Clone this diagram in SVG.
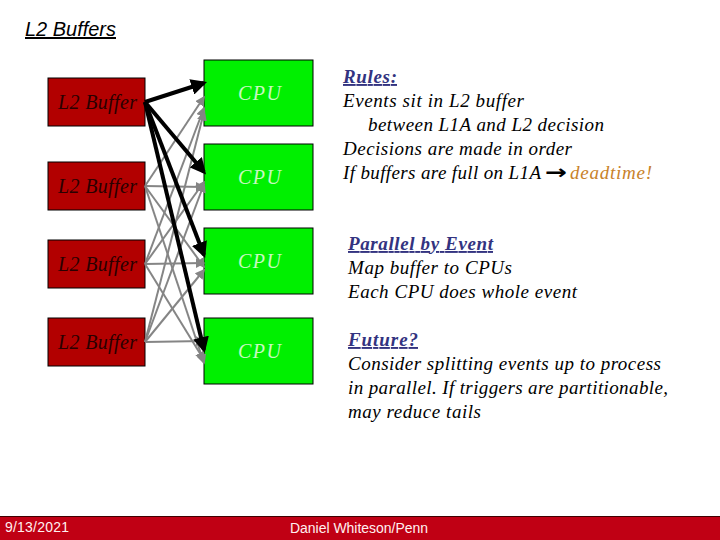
<svg xmlns="http://www.w3.org/2000/svg" width="720" height="540" viewBox="0 0 720 540">
<style>
.buf rect{fill:#b20000;stroke:#000;stroke-width:1}
.buf text{font-family:"Liberation Serif",serif;font-style:italic;font-size:20px;fill:#2a0000}
.cpu rect{fill:#00f000;stroke:#000;stroke-width:1}
.cpu text{font-family:"Liberation Serif",serif;font-style:italic;font-size:20px;fill:#c8f8c0}
.blk{stroke:#000;stroke-width:4;fill:none;marker-end:url(#ab)}
.gry{stroke:#858585;stroke-width:2;fill:none;marker-end:url(#ag)}
.note{font-family:"Liberation Serif",serif;font-style:italic;font-size:19px;fill:#000}
.hd{font-weight:bold;fill:#333380;text-decoration:underline}
.foot{font-family:"Liberation Sans",sans-serif;font-size:14px;fill:#fff0f0}
</style>
<defs>
<marker id="ab" markerWidth="4" markerHeight="4" refX="3.2" refY="2" orient="auto" markerUnits="strokeWidth"><path d="M0,0 L4,2 L0,4 z" fill="#000"/></marker>
<marker id="ag" markerWidth="5" markerHeight="5" refX="4.2" refY="2.5" orient="auto" markerUnits="strokeWidth"><path d="M0,0 L5,2.5 L0,5 z" fill="#858585"/></marker>
</defs>
<rect width="720" height="540" fill="#fff"/>
<text x="25" y="36" font-family="Liberation Sans,sans-serif" font-style="italic" font-size="20" text-decoration="underline" fill="#000" textLength="91" lengthAdjust="spacingAndGlyphs">L2 Buffers</text>

<g id="buffer1" class="buf"><rect x="48" y="78" width="97" height="48"/><text x="58" y="109" textLength="79">L2 Buffer</text></g>
<g id="buffer2" class="buf"><rect x="48" y="162" width="97" height="48"/><text x="58" y="193" textLength="79">L2 Buffer</text></g>
<g id="buffer3" class="buf"><rect x="48" y="240" width="97" height="48"/><text x="58" y="271" textLength="79">L2 Buffer</text></g>
<g id="buffer4" class="buf"><rect x="48" y="318" width="97" height="48"/><text x="58" y="349" textLength="79">L2 Buffer</text></g>

<g id="cpu1" class="cpu"><rect x="204" y="60" width="109" height="66"/><text x="238" y="100" textLength="43">CPU</text></g>
<g id="cpu2" class="cpu"><rect x="204" y="144" width="109" height="66"/><text x="238" y="184" textLength="43">CPU</text></g>
<g id="cpu3" class="cpu"><rect x="204" y="228" width="109" height="66"/><text x="238" y="268" textLength="43">CPU</text></g>
<g id="cpu4" class="cpu"><rect x="204" y="318" width="109" height="66"/><text x="238" y="358" textLength="43">CPU</text></g>

<g id="connectors">
<line class="gry" x1="145" y1="186" x2="204" y2="97"/>
<line class="gry" x1="145" y1="264" x2="204" y2="108"/>
<line class="gry" x1="145" y1="342" x2="204" y2="112"/>
<line class="gry" x1="145" y1="186" x2="204" y2="187"/>
<line class="gry" x1="145" y1="264" x2="204" y2="182"/>
<line class="gry" x1="145" y1="342" x2="204" y2="184"/>
<line class="gry" x1="145" y1="186" x2="204" y2="267"/>
<line class="gry" x1="145" y1="264" x2="204" y2="263"/>
<line class="gry" x1="145" y1="342" x2="204" y2="270"/>
<line class="gry" x1="145" y1="186" x2="204" y2="363"/>
<line class="gry" x1="145" y1="264" x2="204" y2="360"/>
<line class="gry" x1="145" y1="342" x2="204" y2="341"/>
<line class="blk" x1="145" y1="102" x2="204" y2="83"/>
<line class="blk" x1="145" y1="102" x2="204" y2="172"/>
<line class="blk" x1="145" y1="102" x2="204" y2="255"/>
<line class="blk" x1="145" y1="102" x2="204" y2="350"/>
</g>

<g id="notes" class="note">
<text x="343" y="83" class="hd" textLength="54">Rules:</text>
<text x="343" y="107" textLength="181">Events sit in  L2 buffer</text>
<text x="368" y="131" textLength="236">between L1A and L2 decision</text>
<text x="343" y="155" textLength="229">Decisions are made in order</text>
<text x="343" y="179"><tspan textLength="198">If buffers are full on L1A</tspan><tspan x="545" font-style="normal" font-family="DejaVu Sans,sans-serif" font-weight="bold" font-size="20" textLength="22" lengthAdjust="spacingAndGlyphs">→</tspan><tspan x="570" fill="#c8822a" textLength="82">deadtime!</tspan></text>
<text x="348" y="250" class="hd" textLength="145">Parallel by Event</text>
<text x="348" y="274" textLength="164">Map buffer to CPUs</text>
<text x="348" y="298" textLength="229">Each CPU does whole event</text>
<text x="348" y="346" class="hd" textLength="70">Future?</text>
<text x="348" y="370" textLength="313">Consider splitting events up to process</text>
<text x="348" y="394" textLength="320">in parallel. If triggers are partitionable,</text>
<text x="348" y="418" textLength="133">may reduce tails</text>
</g>

<g id="footer">
<rect x="0" y="516" width="720" height="24" fill="#c00014"/>
<line x1="0" y1="516.5" x2="720" y2="516.5" stroke="#400000" stroke-width="1"/>
<text x="5" y="532" class="foot" textLength="64">9/13/2021</text>
<text x="290" y="533" class="foot" textLength="138">Daniel Whiteson/Penn</text>
</g>
</svg>
